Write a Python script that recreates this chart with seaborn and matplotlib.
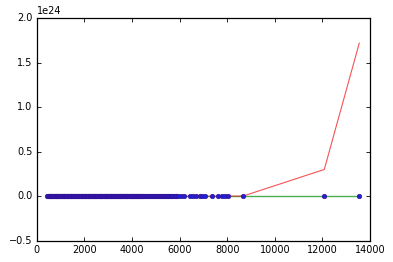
import matplotlib
matplotlib.use("Agg")
import matplotlib.pyplot as plt
import seaborn as sns
import numpy as np

# Observed data points (x), all essentially 0 on the 1e24 scale
points_x = [
    450, 480, 500, 520, 540, 570, 590, 610, 630, 660, 680, 700, 720, 750, 770, 800,
    820, 840, 860, 890, 910, 940, 960, 990, 1010, 1040, 1060, 1090, 1110, 1130,
    1150, 1180, 1200, 1230, 1260, 1290, 1310, 1330, 1350, 1380, 1400, 1430, 1460,
    1490, 1510, 1540, 1560, 1580, 1600, 1630, 1660, 1690, 1710, 1740, 1760, 1790,
    1810, 1840, 1860, 1890, 1910, 1940, 1960, 1990, 2010, 2040, 2060, 2090, 2110,
    2140, 2160, 2190, 2210, 2240, 2260, 2290, 2310, 2340, 2360, 2390, 2410, 2440,
    2460, 2490, 2510, 2540, 2560, 2590, 2610, 2640, 2660, 2690, 2710, 2740, 2760,
    2790, 2810, 2840, 2860, 2890, 2910, 2940, 2960, 2990, 3010, 3040, 3060, 3090,
    3110, 3140, 3160, 3190, 3210, 3240, 3260, 3290, 3310, 3340, 3360, 3390, 3410,
    3440, 3460, 3490, 3510, 3540, 3560, 3590, 3610, 3640, 3660, 3690, 3710, 3740,
    3760, 3790, 3810, 3840, 3860, 3890, 3910, 3940, 3960, 3990, 4010, 4040, 4060,
    4090, 4110, 4140, 4160, 4190, 4210, 4240, 4260, 4290, 4310, 4340, 4360, 4390,
    4420, 4450, 4480, 4520, 4560, 4600, 4640, 4680, 4720, 4770, 4810, 4850, 4880,
    4930, 4970, 5010, 5050, 5090, 5120, 5170, 5220, 5260, 5300, 5350, 5390, 5430,
    5470, 5520, 5560, 5610, 5650, 5700, 5740, 5790, 5830, 5870, 5950, 6050, 6200,
    6450, 6560, 6700, 6850, 6930, 7070, 7375, 7625, 7770, 7910, 8020, 8677,
    12079, 13550,
]
points_y = [0.0] * len(points_x)

# Red model curve (sorted x, values in units of 1e24)
red_x = [450, 4480, 8020, 8677, 12079, 13550]
red_y = [0.0, 0.0, 0.0, 0.002, 0.30, 1.72]

# Green model line
green_x = [450, 13550]
green_y = [0.0, 0.0]

plt.style.use("classic")
sns.set_style("ticks")
plt.rcParams.update({
    "font.family": ["DejaVu Sans"],
    "font.size": 7,
    "xtick.direction": "in",
    "ytick.direction": "in",
    "xtick.top": True,
    "ytick.right": True,
    "xtick.major.size": 3,
    "ytick.major.size": 3,
    "xtick.major.width": 0.6,
    "ytick.major.width": 0.6,
    "xtick.major.pad": 3,
    "ytick.major.pad": 3,
    "xtick.labelsize": 7,
    "ytick.labelsize": 7,
    "xtick.color": "black",
    "ytick.color": "black",
    "axes.edgecolor": "black",
    "axes.linewidth": 0.9,
})

fig = plt.figure(figsize=(3.93, 2.62), dpi=100, facecolor="white")
ax = fig.add_axes([0.0934, 0.0813, 0.9415 - 0.0934, 0.931 - 0.0813])
ax.set_facecolor("white")

scale = 1e24
sns.lineplot(x=green_x, y=np.array(green_y) * scale, ax=ax, color=(0.3, 0.68, 0.3),
             linewidth=1.0, estimator=None, sort=False, zorder=1)
sns.lineplot(x=red_x, y=np.array(red_y) * scale, ax=ax, color=(0.95, 0.1, 0.1),
             linewidth=0.8, estimator=None, sort=False, zorder=2, alpha=0.75)
sns.scatterplot(x=points_x, y=points_y, ax=ax, color="#2020d8", edgecolor="#3a108a",
                s=11, linewidth=0.4, zorder=3)

ax.set_xlim(0, 14000)
ax.set_ylim(-0.5e24, 2.0e24)
ax.set_xticks(np.arange(0, 14001, 2000))
ax.set_yticks(np.arange(-0.5e24, 2.01e24, 0.5e24))
ax.minorticks_off()
ax.set_xlabel("")
ax.set_ylabel("")
for s in ax.spines.values():
    s.set_visible(True)
    s.set_color("black")
    s.set_linewidth(0.9)
ax.yaxis.get_offset_text().set_fontsize(7)

fig.savefig("out.png", dpi=100, facecolor="white")
